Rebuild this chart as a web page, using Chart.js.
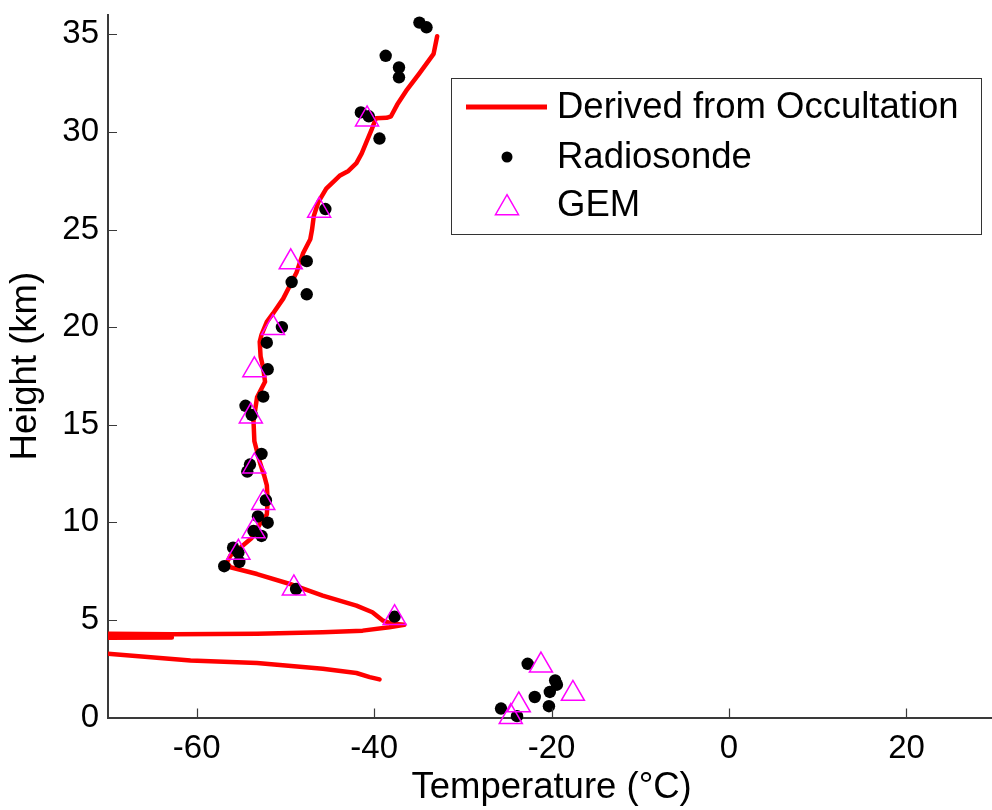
<!DOCTYPE html>
<html>
<head>
<meta charset="utf-8">
<script src="https://cdn.jsdelivr.net/npm/chart.js@4.4.0/dist/chart.umd.min.js"></script>
<style>
  html, body { margin: 0; padding: 0; background: #fff; overflow: hidden; }
  #wrap { position: relative; width: 1010px; height: 810px; }
</style>
</head>
<body>
<div id="wrap"><canvas id="chart" width="1010" height="810"></canvas></div>
<script>
// Temperature profile derived from the occultation (°C vs km), top to bottom
const occTemp = [-32.9, -33.3, -34.1, -34.9, -36.4, -37.4, -38.1, -38.6, -39.8, -40.3,
  -40.9, -41.4, -42.0, -42.9, -43.9, -45.4, -46.3, -46.8, -47.0, -47.2,
  -48.0, -48.75, -50.25, -51.4, -52.1, -52.7, -52.9, -52.8, -52.5, -52.3,
  -53.2, -53.6, -53.5, -52.9, -52.4, -52.1, -52.0, -52.1, -52.9, -53.8,
  -55.1, -56.2, -56.6, -56.2, -53.2, -49.5, -45.8, -42.0, -40.2, -39.0,
  -37.9, -36.6, -38.3, -41.3, -45.8, -53.2, -62.6, -74.0, -74.0, -62.8,
  -74.0, -74.0, -70.0, -60.7, -53.2, -45.8, -42.0, -40.5, -39.4];
const occHeight = [34.9, 34.0, 33.5, 33.0, 32.1, 31.4, 30.8, 30.72, 30.7, 30.1,
  29.45, 28.9, 28.4, 28.0, 27.75, 27.1, 26.4, 25.7, 25.0, 24.5,
  23.8, 22.8, 21.46, 20.7, 20.27, 19.6, 19.25, 18.5, 17.9, 17.2,
  16.4, 15.2, 14.15, 13.1, 12.4, 11.9, 11.1, 10.4, 9.9, 9.2,
  8.7, 8.3, 7.94, 7.7, 7.35, 6.84, 6.24, 5.73, 5.39, 4.96,
  4.8, 4.75, 4.62, 4.45, 4.37, 4.29, 4.27, 4.3, 4.1, 4.1,
  4.08, 3.34, 3.27, 2.92, 2.79, 2.5, 2.28, 2.07, 1.95];

// Radiosonde observations
const sondeTemp = [-34.9, -34.1, -38.7, -37.2, -37.2, -41.5, -40.6, -39.4, -45.5, -47.6,
  -49.3, -47.6, -50.4, -52.1, -52.0, -52.5, -54.5, -53.8, -52.7, -54.0,
  -54.3, -52.2, -53.1, -52.0, -53.6, -52.7, -55.9, -55.3, -55.2, -56.9,
  -48.8, -37.7, -22.7, -19.6, -19.4, -20.2, -21.9, -20.3, -25.7, -23.9];
const sondeHeight = [35.6, 35.36, 33.9, 33.3, 32.8, 31.0, 30.8, 29.66, 26.05, 23.38,
  22.31, 21.68, 20.0, 19.2, 17.84, 16.44, 15.97, 15.5, 13.5, 12.96,
  12.6, 11.13, 10.3, 9.98, 9.56, 9.3, 8.7, 8.45, 7.97, 7.75,
  6.58, 5.17, 2.75, 1.9, 1.68, 1.31, 1.05, 0.58, 0.46, 0.07];

// GEM model values
const gemTemp = [-40.8, -46.2, -49.4, -51.4, -53.5, -53.9, -53.5, -52.5, -53.6, -55.3,
  -49.05, -37.7, -21.2, -17.6, -23.7, -24.6];
const gemHeight = [30.65, 25.97, 23.33, 19.96, 17.8, 15.43, 12.87, 11.0, 9.55, 8.45,
  6.62, 5.1, 2.67, 1.22, 0.63, 0.03];

const xTicks = [-60, -40, -20, 0, 20];
const yTicks = [0, 5, 10, 15, 20, 25, 30, 35];

const seriesNames = ['Derived from Occultation', 'Radiosonde', 'GEM'];
const xTitle = 'Temperature (\u00B0C)';
const yTitle = 'Height (km)';

const FONT = '"Liberation Sans", Arial, Helvetica, sans-serif';
const AXIS_COLOR = '#3a3a3a';

const toPoints = (xs, ys) => xs.map((x, i) => ({ x: x, y: ys[i] }));

// Short tick marks pointing into the plot area
const innerTicks = {
  id: 'innerTicks',
  afterDraw(chart) {
    const { ctx, chartArea: a, scales: { x, y } } = chart;
    ctx.save();
    ctx.strokeStyle = AXIS_COLOR;
    ctx.lineWidth = 1.2;
    ctx.beginPath();
    x.ticks.forEach(t => {
      const px = Math.round(x.getPixelForValue(t.value)) + 0.5;
      ctx.moveTo(px, a.bottom);
      ctx.lineTo(px, a.bottom - 9);
    });
    y.ticks.forEach(t => {
      const py = Math.round(y.getPixelForValue(t.value)) + 0.5;
      ctx.moveTo(a.left, py);
      ctx.lineTo(a.left + 9, py);
    });
    ctx.stroke();
    ctx.restore();
  }
};

// Boxed legend in the upper right of the plot
const boxLegend = {
  id: 'boxLegend',
  afterDraw(chart) {
    const { ctx } = chart;
    const box = { l: 451.5, t: 78.5, r: 981.5, b: 234.5 };
    const rows = [107, 157, 205];
    const ds = chart.data.datasets;
    ctx.save();
    ctx.fillStyle = '#ffffff';
    ctx.fillRect(box.l, box.t, box.r - box.l, box.b - box.t);
    ctx.strokeStyle = '#333333';
    ctx.lineWidth = 1;
    ctx.strokeRect(box.l, box.t, box.r - box.l, box.b - box.t);

    // line sample
    ctx.strokeStyle = ds[0].borderColor;
    ctx.lineWidth = 5;
    ctx.beginPath();
    ctx.moveTo(466, rows[0]);
    ctx.lineTo(547, rows[0]);
    ctx.stroke();

    // point samples
    ctx.fillStyle = ds[1].backgroundColor;
    ctx.strokeStyle = ds[1].backgroundColor;
    Chart.helpers.drawPoint(ctx, { pointStyle: 'circle', radius: 5.5, borderWidth: 0 }, 507, rows[1]);

    ctx.fillStyle = 'rgba(0,0,0,0)';
    ctx.strokeStyle = ds[2].borderColor;
    ctx.lineWidth = 1.5;
    Chart.helpers.drawPoint(ctx, { pointStyle: 'triangle', radius: 13.3, borderWidth: 1.5 }, 507, rows[2] + 3);

    ctx.fillStyle = '#000';
    ctx.font = '36.5px ' + FONT;
    ctx.textBaseline = 'middle';
    ctx.textAlign = 'left';
    ds.forEach((d, i) => ctx.fillText(d.label, 557, rows[i] + 1));
    ctx.restore();
  }
};

new Chart(document.getElementById('chart'), {
  type: 'scatter',
  data: {
    datasets: [
      {
        label: seriesNames[0],
        data: toPoints(occTemp, occHeight),
        showLine: true,
        borderColor: '#ff0000',
        backgroundColor: '#ff0000',
        borderWidth: 4.5,
        pointRadius: 0,
        pointHoverRadius: 0,
        tension: 0,
        borderJoinStyle: 'round',
        borderCapStyle: 'round',
        clip: { left: 0, top: false, right: false, bottom: false },
        order: 3
      },
      {
        label: seriesNames[1],
        data: toPoints(sondeTemp, sondeHeight),
        pointStyle: 'circle',
        pointRadius: 6.2,
        pointBorderWidth: 0,
        backgroundColor: '#000000',
        borderColor: '#000000',
        clip: false,
        order: 2
      },
      {
        label: seriesNames[2],
        data: toPoints(gemTemp, gemHeight),
        pointStyle: 'triangle',
        pointRadius: 13.3,
        pointBorderWidth: 1.5,
        backgroundColor: 'rgba(0,0,0,0)',
        borderColor: '#ff00ff',
        clip: false,
        order: 1
      }
    ]
  },
  options: {
    responsive: false,
    animation: false,
    devicePixelRatio: 1,
    layout: { padding: { left: 0, top: 13.5, right: 10.5, bottom: 0 } },
    plugins: {
      legend: { display: false },
      tooltip: { enabled: false }
    },
    scales: {
      x: {
        type: 'linear',
        min: -70,
        max: 30,
        afterBuildTicks: s => { s.ticks = xTicks.map(v => ({ value: v })); },
        afterFit: s => { s.height = 92.5; s.paddingLeft = 0; s.paddingRight = 0; },
        grid: { display: true, drawOnChartArea: false, drawTicks: false },
        border: { display: true, color: AXIS_COLOR, width: 2 },
        ticks: { color: '#000', font: { family: FONT, size: 33 }, padding: 12, maxRotation: 0 },
        title: {
          display: true, text: xTitle, color: '#000',
          font: { family: FONT, size: 36.5 }, padding: { top: 0, bottom: 0 }
        }
      },
      y: {
        type: 'linear',
        min: 0,
        max: 36,
        afterBuildTicks: s => { s.ticks = yTicks.map(v => ({ value: v })); },
        afterFit: s => { s.width = 108; s.paddingTop = 0; s.paddingBottom = 0; },
        grid: { display: true, drawOnChartArea: false, drawTicks: false },
        border: { display: true, color: AXIS_COLOR, width: 2 },
        ticks: { color: '#000', font: { family: FONT, size: 33 }, padding: 9 },
        title: {
          display: true, text: yTitle, color: '#000',
          font: { family: FONT, size: 36.5 }, padding: { top: 4, bottom: 0 }
        }
      }
    }
  },
  plugins: [innerTicks, boxLegend]
});
</script>
</body>
</html>
